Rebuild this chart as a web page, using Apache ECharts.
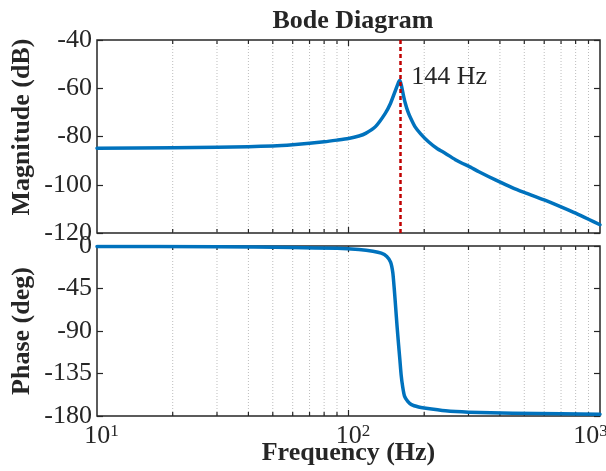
<!DOCTYPE html>
<html>
<head>
<meta charset="utf-8">
<script src="https://cdn.jsdelivr.net/npm/echarts@6/dist/echarts.min.js"></script>
<style>
  html, body { margin: 0; padding: 0; background: #fff; }
  #chart { width: 606px; height: 471px; }
</style>
</head>
<body>
<div id="chart"></div>
<script>
// magnitude response
const magFreq = [10, 20, 30, 40, 50, 60, 70, 80, 90, 100, 110, 117, 128, 140, 147, 154, 158.5, 160,
                 162, 165, 168, 172, 176, 184, 194, 208, 225, 243, 265, 283, 300, 330, 384, 454, 500, 600, 700, 800, 900, 1000];
const magDb = [-84.9, -84.7, -84.5, -84.2, -83.9, -83.4, -82.8, -82.2, -81.5, -80.8, -79.8, -78.7, -75.9, -70.4, -66.2, -60.7, -57.3, -56.8,
               -58.5, -62.5, -66.0, -69.5, -72.0, -76.0, -79.0, -82.2, -85.0, -87.0, -89.5, -91.1, -92.3, -94.6, -98.0, -101.5, -103.2, -106.3, -109.2, -111.8, -114.3, -116.6];

// phase response
const phaseFreq = [10, 30, 60, 90, 110, 125, 135, 142, 147, 150, 152, 154, 156, 158, 160, 162, 164, 167, 172,
                   178, 190, 200, 243, 300, 450, 700, 1000];
const phaseDeg = [-0.5, -0.8, -1.6, -2.5, -3.8, -5.5, -7.5, -11, -17, -28, -45, -65, -85, -103, -120, -137, -148, -159, -164.5,
                  -168, -170.5, -171.6, -174.5, -175.9, -177, -177.7, -178.2];

// resonance marker
const peakFreq = 160;
const peakLabel = '144 Hz';
const peakLabelDb = -55.3;

// frequency axis: range and grid ticks
const freqMin = 10;
const freqMax = 1000;
const freqTicks = [20, 30, 40, 50, 60, 70, 80, 90, 100, 200, 300, 400, 500, 600, 700, 800, 900];

const FONT = "'Liberation Serif', 'Times New Roman', serif";
const INK = '#262626';
const BLUE = '#0072BD';

const chart = echarts.init(document.getElementById('chart'));

// dotted grid lines + inner ticks on top and bottom edges
function tickRender(params, api) {
    const f = api.value(0);
    const x = api.coord([f, 0])[0];
    const cs = params.coordSys;
    const len = Math.abs(Math.log10(f) % 1) < 1e-6 ? 6 : 4;
    return {
        type: 'group',
        children: [
            { type: 'line', shape: { x1: x, y1: cs.y, x2: x, y2: cs.y + cs.height },
              style: { stroke: '#bdbdbd', lineWidth: 1, lineDash: [1, 2] } },
            { type: 'line', shape: { x1: x, y1: cs.y + cs.height, x2: x, y2: cs.y + cs.height - len },
              style: { stroke: INK, lineWidth: 1.2 } },
            { type: 'line', shape: { x1: x, y1: cs.y, x2: x, y2: cs.y + len },
              style: { stroke: INK, lineWidth: 1.2 } }
        ]
    };
}

function yAx(grid, pos, min, max, interval, name) {
    return {
        type: 'value', gridIndex: grid, position: pos,
        min: min, max: max, interval: interval,
        name: name, nameLocation: 'middle', nameGap: 62, nameMoveOverlap: false,
        nameTextStyle: { fontFamily: FONT, fontSize: 26, fontWeight: 'bold', color: INK,
                         padding: grid === 0 ? [0, 0, 0, 19] : 0 },
        axisLine: { show: false },
        axisTick: { show: true, inside: true, length: 6, lineStyle: { color: INK, width: 1.2 } },
        axisLabel: { show: pos === 'left', fontFamily: FONT, fontSize: 26, color: INK, margin: 5 },
        splitLine: { show: false }
    };
}

chart.setOption({
    animation: false,
    title: {
        text: 'Bode Diagram', left: 348, top: 3, textAlign: 'center',
        textStyle: { fontFamily: FONT, fontSize: 26, fontWeight: 'bold', color: INK }
    },
    grid: [
        { left: 97, top: 40, width: 503, height: 193, outerBoundsMode: 'none',
          show: true, borderColor: INK, borderWidth: 1.5 },
        { left: 97, top: 246, width: 503, height: 170, outerBoundsMode: 'none',
          show: true, borderColor: INK, borderWidth: 1.5 }
    ],
    xAxis: [
        { type: 'log', logBase: 10, gridIndex: 0, min: freqMin, max: freqMax,
          axisLine: { show: false }, axisTick: { show: false }, axisLabel: { show: false }, splitLine: { show: false } },
        { type: 'log', logBase: 10, gridIndex: 1, min: freqMin, max: freqMax,
          name: 'Frequency (Hz)', nameLocation: 'middle', nameGap: 24, nameMoveOverlap: false,
          nameTextStyle: { fontFamily: FONT, fontSize: 26, fontWeight: 'bold', color: INK },
          axisLine: { show: false }, axisTick: { show: false }, splitLine: { show: false },
          axisLabel: {
              margin: 7,
              formatter: function (v) {
                  const e = Math.round(Math.log10(v));
                  // keep "10" centred on the tick; the last one is pulled in like MATLAB does
                  return v >= freqMax ? '{b|10}{s|' + e + '}{q|}' : '{p|}{b|10}{s|' + e + '}';
              },
              rich: {
                  p: { width: 9 },
                  q: { width: 19 },
                  b: { fontFamily: FONT, fontSize: 26, color: INK, lineHeight: 26 },
                  s: { fontFamily: FONT, fontSize: 17, color: INK, lineHeight: 17, verticalAlign: 'top' }
              }
          } }
    ],
    yAxis: [
        yAx(0, 'left', -120, -40, 20, 'Magnitude (dB)'),
        yAx(0, 'right', -120, -40, 20, ''),
        yAx(1, 'left', -180, 0, 45, 'Phase (deg)'),
        yAx(1, 'right', -180, 0, 45, '')
    ],
    series: [
        { type: 'custom', xAxisIndex: 0, yAxisIndex: 0, z: 1, silent: true,
          renderItem: tickRender, data: freqTicks.map(f => [f, -80]) },
        { type: 'custom', xAxisIndex: 1, yAxisIndex: 2, z: 1, silent: true,
          renderItem: tickRender, data: freqTicks.map(f => [f, -90]) },
        {
            type: 'line', xAxisIndex: 0, yAxisIndex: 0, z: 3,
            data: magFreq.map((f, i) => [f, magDb[i]]),
            showSymbol: false, smooth: 0.2,
            lineStyle: { color: BLUE, width: 3.5, join: 'round', cap: 'round' },
            markLine: {
                silent: true, symbol: 'none', label: { show: false },
                lineStyle: { color: '#C00000', type: [4, 3], width: 2.5 },
                data: [{ xAxis: peakFreq }]
            },
            markPoint: {
                silent: true,
                data: [{ coord: [peakFreq, peakLabelDb], symbol: 'circle', symbolSize: 1,
                         itemStyle: { color: 'transparent' },
                         label: { show: true, position: 'right', distance: 11, formatter: peakLabel,
                                  fontFamily: FONT, fontSize: 26, color: INK } }]
            }
        },
        {
            type: 'line', xAxisIndex: 1, yAxisIndex: 2, z: 3,
            data: phaseFreq.map((f, i) => [f, phaseDeg[i]]),
            showSymbol: false, smooth: 0.2,
            lineStyle: { color: BLUE, width: 3.5, join: 'round', cap: 'round' }
        }
    ]
});
</script>
</body>
</html>
